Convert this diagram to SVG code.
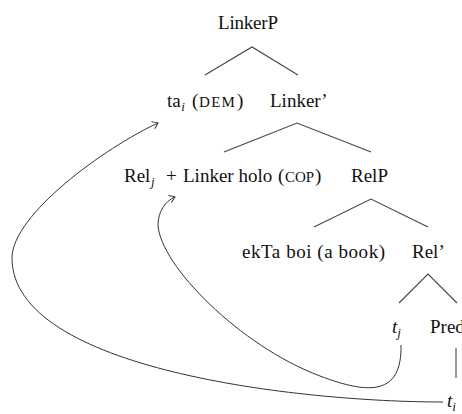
<svg xmlns="http://www.w3.org/2000/svg" width="462" height="414" viewBox="0 0 462 414">
<style>
.tree{stroke:#444;stroke-width:1.1;fill:none}
.mv{stroke:#333;stroke-width:1;fill:none;marker-end:url(#arr)}
</style>
<defs>
<marker id="arr" markerUnits="userSpaceOnUse" markerWidth="12" markerHeight="12" viewBox="-8 -6 10 12" refX="0" refY="0" orient="auto">
<path d="M-5.5,-3.8 Q-1.5,-1.2 0,0 Q-1.5,1.2 -5.5,3.8" fill="none" stroke="#333" stroke-width="1"/>
</marker>
</defs>
<g id="connectors">
<path class="tree" d="M205,75 L252,47 L298,75"/>
<path class="tree" d="M224,152 L297,123 L371,152"/>
<path class="tree" d="M314,227 L371,199 L428,227"/>
<path class="tree" d="M399,303 L428,274 L457,303"/>
<path class="tree" d="M456,348 L456,378"/>
<path class="mv" d="M443,402 C300,402 12,370 12,258 C12,215 104,148 158,123"/>
<path class="mv" d="M401,345 C402,395 370,395 320,376 C240,346 160,265 158,225 C158,212 165,201 175,197"/>
</g>
<g font-family="Liberation Serif, Times New Roman, serif" font-size="19" fill="#111">
<g id="LinkerP"><text x="248" y="29" text-anchor="middle" textLength="60">LinkerP</text></g>
<g id="ta"><text x="167" y="107">ta<tspan font-size="13" font-style="italic" dx="0.5" dy="4">i</tspan><tspan dy="-4" x="192">(</tspan><tspan font-size="15" letter-spacing="1.3" x="199">DEM</tspan><tspan x="237">)</tspan></text></g>
<g id="LinkerBar"><text x="270" y="107">Linker’</text></g>
<g id="Rel"><text x="124" y="182">Rel<tspan font-size="13" font-style="italic" dx="0.5" dy="4">j</tspan><tspan dy="-4" x="166">+</tspan><tspan x="183">Linker holo</tspan><tspan x="278">(</tspan><tspan font-size="15" x="285">COP</tspan><tspan x="315">)</tspan></text></g>
<g id="RelP"><text x="351" y="182">RelP</text></g>
<g id="ekTa"><text x="242" y="258" textLength="143">ekTa boi (a book)</text></g>
<g id="RelBar"><text x="412" y="258">Rel’</text></g>
<g id="tj"><text x="392" y="333"><tspan font-style="italic">t</tspan><tspan font-size="13" font-style="italic" dy="4">j</tspan></text></g>
<g id="Pred"><text x="430" y="333">Pred</text></g>
<g id="ti"><text x="447" y="407"><tspan font-style="italic">t</tspan><tspan font-size="13" font-style="italic" dy="4">i</tspan></text></g>
</g>
</svg>
